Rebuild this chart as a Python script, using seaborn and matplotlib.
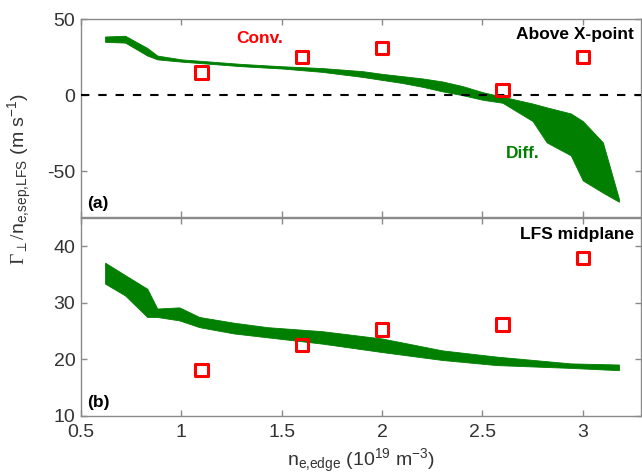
import numpy as np
import pandas as pd
import matplotlib
matplotlib.use("Agg")
import matplotlib.pyplot as plt
import seaborn as sns

# ---- data ----
band_a_x = [0.62, 0.72, 0.83, 0.88, 1.0, 1.1, 1.3, 1.5, 1.7, 1.9, 2.0, 2.1, 2.2, 2.3,
            2.4, 2.5, 2.6, 2.75, 2.82, 2.94, 3.0, 3.1, 3.18]
band_a_hi = [38.5, 39, 31, 26, 23.5, 22.5, 20.5, 19, 17.8, 15.8, 14, 12.5, 11, 9,
             6, 2, -1, -5.5, -8, -12, -17, -31, -68]
band_a_lo = [35, 34.5, 26, 23.5, 22, 21, 19, 17.5, 15.3, 12, 10, 8, 5.5, 2.5,
             0, -3, -5, -17, -31, -39.5, -56, -64, -70]

band_b_x = [0.62, 0.72, 0.83, 0.88, 0.99, 1.09, 1.26, 1.43, 1.7, 2.0, 2.3, 2.57, 2.94, 3.18]
band_b_hi = [37.1, 34.9, 32.5, 29, 29.2, 27.5, 26.5, 25.7, 25, 23.7, 21.6, 20.5, 19.3, 19.1]
band_b_lo = [33.4, 31.3, 27.5, 27.5, 26.9, 25.7, 24.6, 23.9, 22.8, 21.3, 19.9, 19, 18.5, 18.1]

conv_x = [1.1, 1.6, 2.0, 2.6, 3.0]
conv_a = [15, 25, 31, 3.5, 25]
conv_b = [18.1, 22.6, 25.3, 26.2, 37.9]

xticks = [0.5, 1, 1.5, 2, 2.5, 3]
xticklabels = ["0.5", "1", "1.5", "2", "2.5", "3"]
yticks_a = [-50, 0, 50]
yticks_b = [10, 20, 30, 40]

# ---- style ----
sns.set_theme(style="ticks")
plt.rcParams["font.family"] = ["Liberation Sans", "DejaVu Sans"]
plt.rcParams["axes.unicode_minus"] = False
plt.rcParams["mathtext.fontset"] = "custom"
plt.rcParams["mathtext.rm"] = "Liberation Serif"
plt.rcParams["mathtext.sf"] = "Liberation Sans"
plt.rcParams["mathtext.it"] = "Liberation Sans:italic"

GREEN = "#007f00"
RED = "#ff0000"
SPINE = "#8a8a8a"
TICKC = "#333333"

fig = plt.figure(figsize=(6.42, 4.75), dpi=100)
L, R = 81 / 642, 641 / 642
ax_a = fig.add_axes([L, 1 - 217 / 475, R - L, (217 - 19) / 475])
ax_b = fig.add_axes([L, 1 - 416 / 475, R - L, (416 - 218) / 475])

df_a = pd.DataFrame({"x": conv_x, "y": conv_a})
df_b = pd.DataFrame({"x": conv_x, "y": conv_b})

for ax, bx, hi, lo, df, yl, yt in [
    (ax_a, band_a_x, band_a_hi, band_a_lo, df_a, (-80, 50), yticks_a),
    (ax_b, band_b_x, band_b_hi, band_b_lo, df_b, (10, 45), yticks_b),
]:
    ax.fill_between(bx, lo, hi, color=GREEN, linewidth=0.6, edgecolor=GREEN, zorder=2)
    sns.scatterplot(data=df, x="x", y="y", ax=ax, marker="s", s=80,
                    facecolor="none", edgecolor=RED, linewidth=2.2, zorder=4)
    ax.set_xlim(0.5, 3.29)
    ax.set_ylim(*yl)
    ax.set_xticks(xticks)
    ax.set_yticks(yt)
    ax.set_xlabel("")
    ax.set_ylabel("")
    for s in ax.spines.values():
        s.set_visible(True)
        s.set_color(SPINE)
        s.set_linewidth(1.0)
    ax.tick_params(direction="in", length=4, width=1, color=SPINE,
                   top=True, right=True, labelsize=14, labelcolor=TICKC)
    ax.tick_params(axis="y", pad=4)
    ax.tick_params(axis="x", pad=6)

ax_a.axhline(0, color="black", linestyle=(0, (4, 4.3)), linewidth=1.5, zorder=3)
ax_a.tick_params(labelbottom=False)
ax_b.set_xticklabels(xticklabels)

# annotations
ax_a.text(1.39, 37.5, "Conv.", color=RED, fontsize=12.5, fontweight="bold",
          ha="center", va="center")
ax_a.text(3.255, 39.5, "Above X-point", color="black", fontsize=12.5,
          fontweight="bold", ha="right", va="center")
ax_a.text(2.70, -38, "Diff.", color=GREEN, fontsize=12.5, fontweight="bold",
          ha="center", va="center")
ax_a.text(0.53, -71, "(a)", color="black", fontsize=12.5, fontweight="bold",
          ha="left", va="center")
ax_b.text(3.255, 42.1, "LFS midplane", color="black", fontsize=12.5,
          fontweight="bold", ha="right", va="center")
ax_b.text(0.53, 12.3, "(b)", color="black", fontsize=12.5, fontweight="bold",
          ha="left", va="center")

fig.text(20 / 642, 1 - 179 / 475,
         r"$\Gamma_{\perp}/\mathsf{n}_{\mathsf{e{,}sep{,}LFS}}\ \mathsf{(m\ s^{-1})}$",
         rotation=90, ha="center", va="center", fontsize=14, color=TICKC)
fig.text((L + R) / 2, 1 - 461 / 475,
         r"$\mathsf{n}_{\mathsf{e{,}edge}}$ (10$^{\mathsf{19}}$ m$^{\mathsf{-3}}$)",
         ha="center", va="center", fontsize=14, color=TICKC)

fig.savefig("out.png", dpi=100)
